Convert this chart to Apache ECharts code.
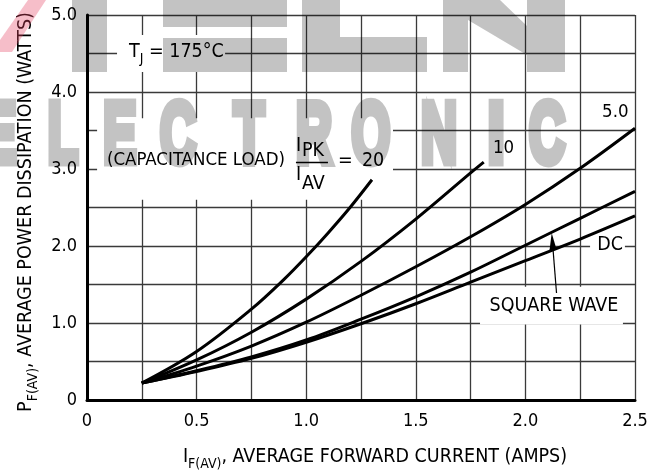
<!DOCTYPE html>
<html><head><meta charset="utf-8">
<script src="https://cdn.jsdelivr.net/npm/echarts@6/dist/echarts.min.js"></script>
<style>html,body{margin:0;padding:0;background:#fff}#c{width:660px;height:470px}</style>
</head><body><div id="c"></div>
<script>
// ---- data ----
const x20 = [0.25, 0.5, 0.75, 0.9, 1.0, 1.1, 1.2, 1.3];
const p20 = [0.22, 0.63, 1.18, 1.57, 1.86, 2.17, 2.50, 2.86];
const x10 = [0.25, 0.5, 0.75, 1.0, 1.25, 1.5, 1.75, 1.81];
const p10 = [0.22, 0.52, 0.88, 1.31, 1.80, 2.35, 2.95, 3.09];
const x5 = [0.25, 0.5, 0.75, 1.0, 1.25, 1.5, 1.75, 2.0, 2.25, 2.5];
const p5 = [0.22, 0.44, 0.70, 1.01, 1.36, 1.73, 2.12, 2.54, 3.01, 3.53];
const xSq = [0.25, 0.5, 0.75, 1.0, 1.25, 1.5, 1.75, 2.0, 2.25, 2.5];
const pSq = [0.22, 0.38, 0.56, 0.78, 1.05, 1.34, 1.66, 2.01, 2.36, 2.71];
const xDc = [0.25, 0.5, 0.75, 1.0, 1.25, 1.5, 1.75, 2.0, 2.25, 2.5];
const pDc = [0.22, 0.37, 0.54, 0.75, 0.99, 1.25, 1.53, 1.81, 2.09, 2.39];
const curveNames = ['20', '10', '5.0', 'SQUARE WAVE', 'DC'];
const xMin = 0, xMax = 2.5, xStep = 0.25;
const yMin = 0, yMax = 5, yStep = 0.5;

const FONT = "'Liberation Sans Narrow','DejaVu Sans Condensed','Arial Narrow','Liberation Sans',sans-serif";
const chart = echarts.init(document.getElementById('c'), null, {renderer: 'canvas'});

const curves = [[x20, p20], [x10, p10], [x5, p5], [xSq, pSq], [xDc, pDc]];
const titleRich = {
  m: {fontSize: 19.5, fontFamily: FONT, color: '#000', lineHeight: 23, verticalAlign: 'top'},
  s: {fontSize: 14, fontFamily: FONT, color: '#000', lineHeight: 14, verticalAlign: 'top', padding: [10, 0, 0, 0]}
};
const gridColor = '#3a3a3a';

chart.setOption({
  animation: false,
  backgroundColor: '#fff',
  grid: {left: 87, right: 25, top: 15, bottom: 70, containLabel: false, outerBoundsMode: 'none'},
  xAxis: {
    type: 'value', min: xMin, max: xMax, interval: xStep,
    axisLine: {show: true, onZero: false, lineStyle: {color: '#000', width: 3}},
    axisTick: {show: false},
    splitLine: {show: true, lineStyle: {color: gridColor, width: 1.3}},
    axisLabel: {
      fontFamily: FONT, fontSize: 18, color: '#000', margin: 12,
      formatter: v => v === 0 ? '0' : (Math.abs(v * 2 - Math.round(v * 2)) < 1e-6 ? v.toFixed(1) : '')
    },
    name: '{m|I}{s|F(AV)}{m|, AVERAGE FORWARD CURRENT (AMPS)}',
    nameLocation: 'middle', nameGap: 47,
    nameTextStyle: {rich: titleRich, padding: [0, 0, 0, 28]}
  },
  yAxis: {
    type: 'value', min: yMin, max: yMax, interval: yStep,
    axisLine: {show: true, onZero: false, lineStyle: {color: '#000', width: 3}},
    axisTick: {show: false},
    splitLine: {show: true, lineStyle: {color: gridColor, width: 1.3}},
    axisLabel: {
      fontFamily: FONT, fontSize: 18, color: '#000', margin: 10,
      formatter: v => v === 0 ? '0' : (Math.abs(v - Math.round(v)) < 1e-6 ? v.toFixed(1) : '')
    },
    name: '{m|P}{s|F(AV)}{m|, AVERAGE POWER DISSIPATION (WATTS)}',
    nameLocation: 'middle', nameGap: 46,
    nameTextStyle: {rich: titleRich, padding: [0, 9, 0, 0]}
  },
  series: curves.map((c, k) => ({
    name: curveNames[k], type: 'line', smooth: 0.35, symbol: 'none', showSymbol: false,
    data: c[0].map((v, i) => [v, c[1][i]]),
    lineStyle: {color: '#000', width: 3}, z: 3, silent: true
  }))
});

// ---- annotations ----
const P = (x, y) => chart.convertToPixel({gridIndex: 0}, [x, y]);
const boxes = [
  [0.137, 4.74, 0.63, 4.26],
  [0.046, 3.66, 1.396, 2.60],
  [2.295, 2.12, 2.454, 1.88],
  [1.793, 1.47, 2.445, 0.98]
];
const g = [];
boxes.forEach(b => {
  const a = P(b[0], b[1]), c = P(b[2], b[3]);
  g.push({type: 'rect', z: 1, silent: true,
    shape: {x: a[0], y: a[1], width: c[0] - a[0], height: c[1] - a[1]},
    style: {fill: '#fff'}});
});
function txt(pos, text, size, align, extra) {
  g.push({type: 'text', z: 5, silent: true, x: pos[0], y: pos[1],
    style: Object.assign({text: text, fontSize: size, fontFamily: FONT, fill: '#000',
      align: align || 'center', verticalAlign: 'middle'}, extra || {})});
}
txt(P(2.41, 3.74), '5.0', 18.5);
txt(P(1.90, 3.27), '10', 18.5);
txt(P(2.387, 2.01), 'DC', 19.5);
txt(P(2.13, 1.22), 'SQUARE WAVE', 19.5);
txt(P(0.1916, 4.506), '{m|T}{s|J}{m| = 175°C}', 19.5, 'left', {rich: {
  m: {fontSize: 19.5, fontFamily: FONT, fill: '#000', lineHeight: 22, verticalAlign: 'top'},
  s: {fontSize: 14, fontFamily: FONT, fill: '#000', lineHeight: 14, verticalAlign: 'top', padding: [10, 0, 0, 0]}
}});
const A = P(0.091, 3.117);
txt(A, '(CAPACITANCE LOAD)', 18.5, 'left');
txt([A[0] + 189, A[1] - 14], 'I', 19.5, 'left');
txt([A[0] + 195, A[1] - 9], 'PK', 19.5, 'left');
txt([A[0] + 189, A[1] + 15], 'I', 19.5, 'left');
txt([A[0] + 195, A[1] + 23.5], 'AV', 19.5, 'left');
txt([A[0] + 231, A[1] + 1], '=', 19.5, 'left');
txt([A[0] + 255, A[1] + 1], '20', 19.5, 'left');
g.push({type: 'line', z: 5, silent: true,
  shape: {x1: A[0] + 189, y1: A[1] + 2.5, x2: A[0] + 221, y2: A[1] + 2.5},
  style: {stroke: '#000', lineWidth: 1.5}});
// arrow to square-wave curve
(function () {
  const t = P(2.142, 1.39), h = P(2.12, 2.17);
  const dx = h[0] - t[0], dy = h[1] - t[1], L = Math.hypot(dx, dy);
  const ux = dx / L, uy = dy / L, nx = -uy, ny = ux;
  const bx = h[0] - ux * 17, by = h[1] - uy * 17;
  g.push({type: 'line', z: 5, silent: true, shape: {x1: t[0], y1: t[1], x2: bx, y2: by},
    style: {stroke: '#000', lineWidth: 1.2}});
  g.push({type: 'polygon', z: 5, silent: true,
    shape: {points: [[h[0], h[1]], [bx + nx * 3.5, by + ny * 3.5], [bx - nx * 3.5, by - ny * 3.5]]},
    style: {fill: '#000'}});
})();

// ---- watermark: painted once on an offscreen canvas, laid over the chart translucently ----
const wm = document.createElement('canvas');
wm.width = 660; wm.height = 180;
(function () {
  const ctx = wm.getContext('2d');
  ctx.fillStyle = '#000'; ctx.strokeStyle = '#000';
  [[72, 0, 35, 72], [163, 0, 124, 27], [163, 38, 124, 34], [302, 0, 38, 37], [302, 37, 125, 35],
   [443, 0, 25, 72], [527, 0, 38, 72]].forEach(r => ctx.fillRect(r[0], r[1], r[2], r[3]));
  ctx.beginPath(); ctx.moveTo(468, 0); ctx.lineTo(500, 0); ctx.lineTo(527, 26); ctx.lineTo(527, 55); ctx.lineTo(468, 20);
  ctx.closePath(); ctx.fill();
  const letters = [['E', 0], ['L', 63], ['E', 120], ['C', 178], ['T', 249], ['R', 314], ['O', 371], ['N', 439], ['I', 496], ['C', 547]];
  ctx.font = 'bold 86px "Liberation Sans", Arial, sans-serif';
  ctx.textAlign = 'center'; ctx.textBaseline = 'middle';
  ctx.lineWidth = 9; ctx.lineJoin = 'miter';
  letters.forEach(l => {
    ctx.save(); ctx.translate(l[1], 138); ctx.scale(l[0] === 'I' ? 0.7 : 0.58, 1);
    ctx.fillText(l[0], 0, 0); ctx.strokeText(l[0], 0, 0); ctx.restore();
  });
})();
g.push({type: 'image', z: 10, silent: true,
  style: {image: wm, x: 0, y: 0, width: 660, height: 180, opacity: 0.23}});
g.push({type: 'polygon', z: 10, silent: true,
  shape: {points: [[28, 0], [46, 0], [12, 52], [0, 52], [0, 40]]}, style: {fill: 'rgba(230,70,100,0.35)'}});

chart.setOption({graphic: {elements: g}});
</script>
</body></html>
